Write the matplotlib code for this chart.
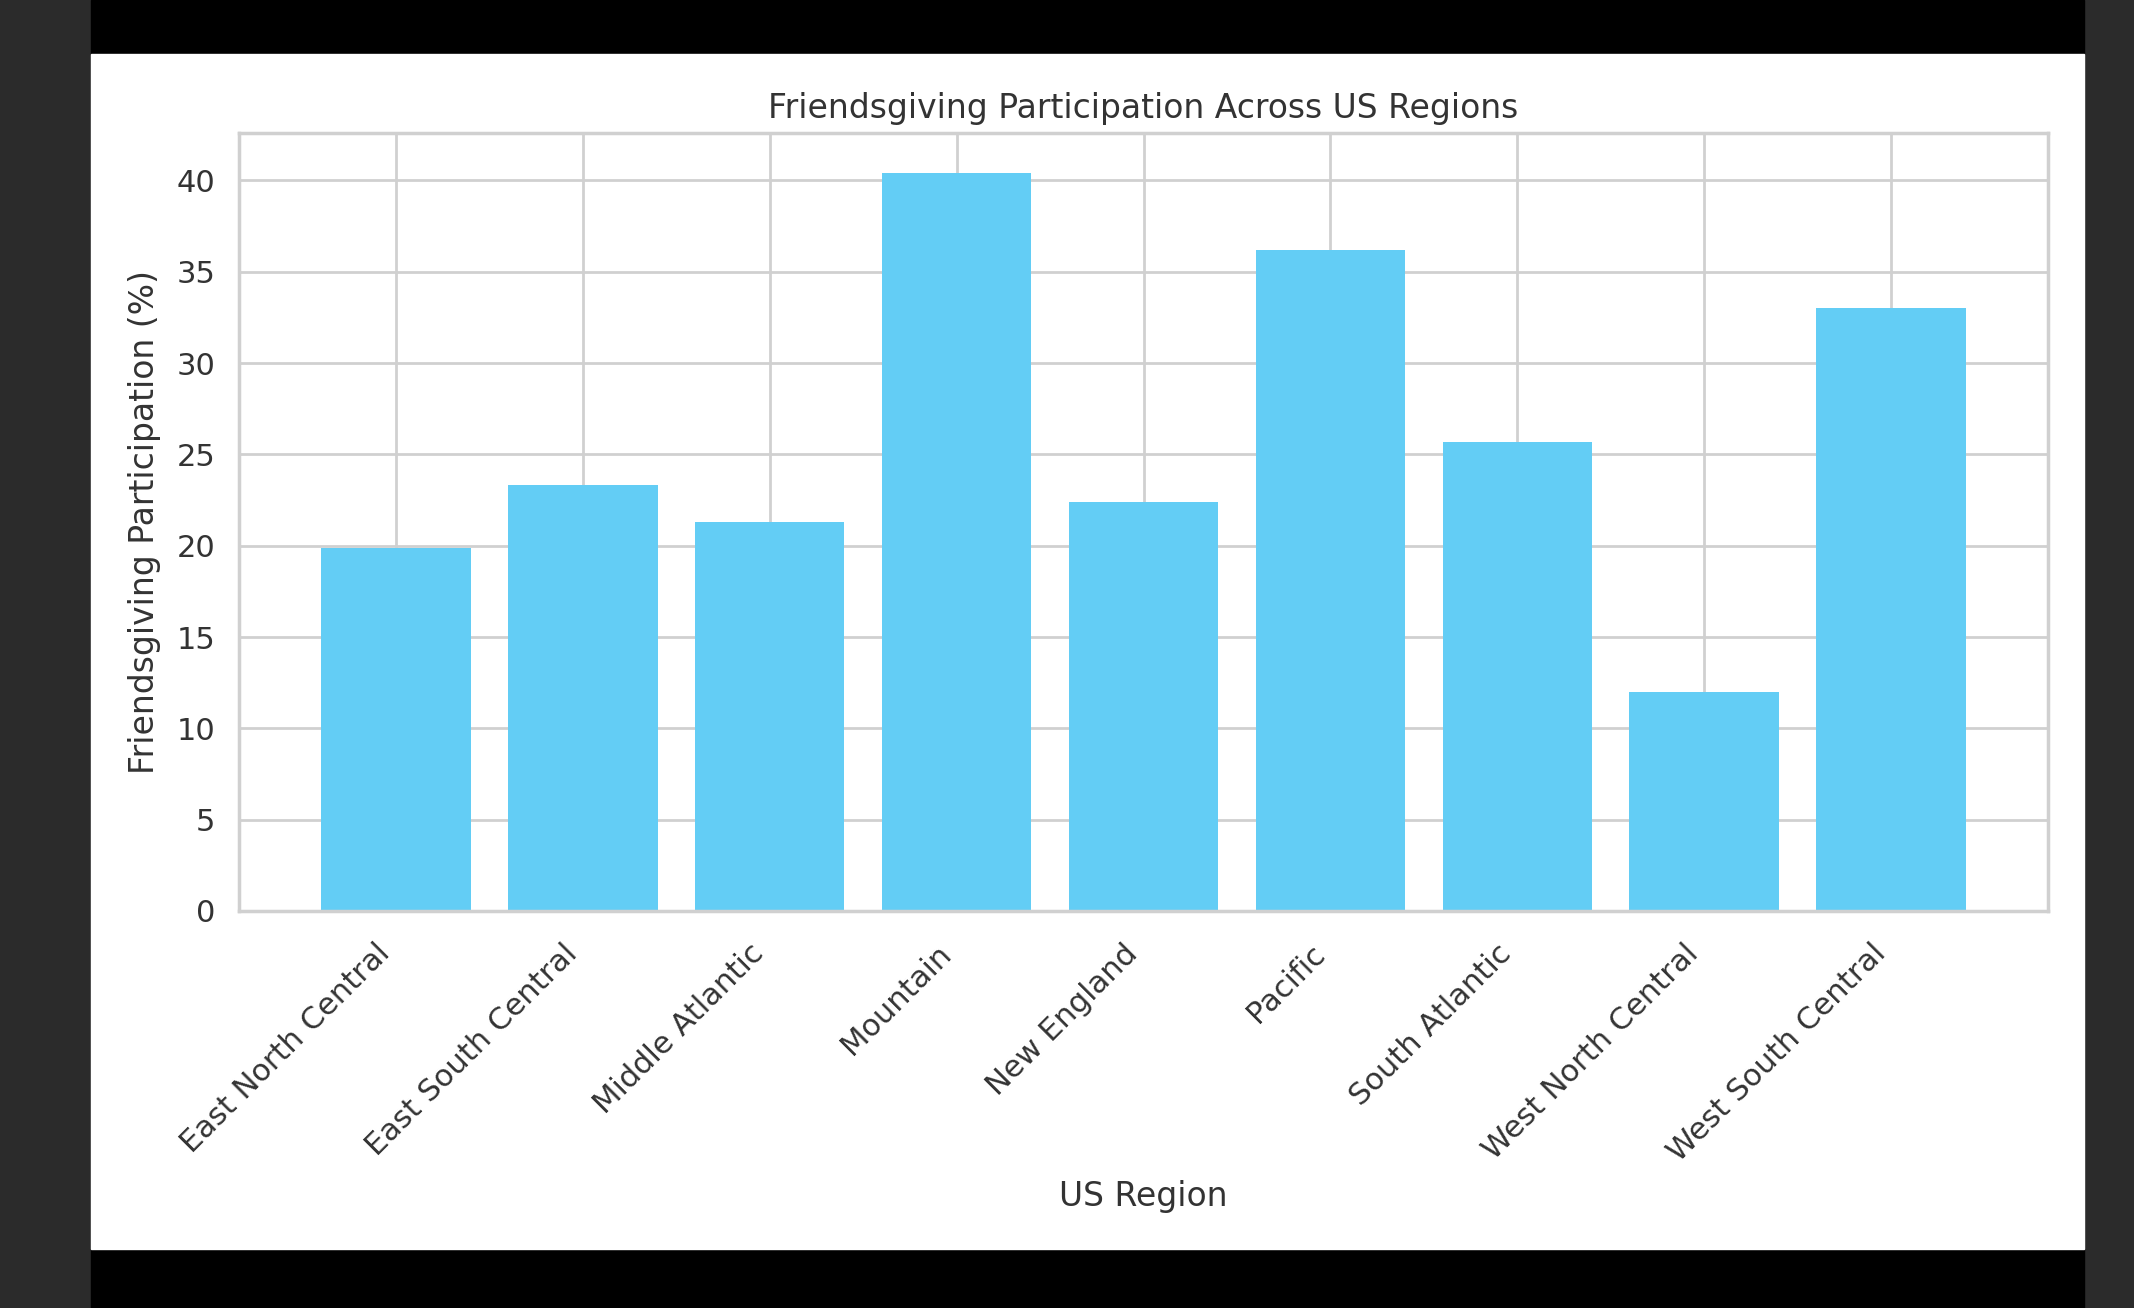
import matplotlib.pyplot as plt
from matplotlib.patches import Rectangle

# data
regions = ["East North Central", "East South Central", "Middle Atlantic", "Mountain",
           "New England", "Pacific", "South Atlantic", "West North Central",
           "West South Central"]
participation = [19.9, 23.3, 21.3, 40.4, 22.4, 36.2, 25.7, 12.0, 33.0]
yticks = [0, 5, 10, 15, 20, 25, 30, 35, 40]

W, H = 2134, 1308
fig = plt.figure(figsize=(W / 100, H / 100), dpi=100)
fig.patch.set_facecolor('#2b2b2b')

# screenshot frame: black bands and the white modal
def px_rect(x0, y0, x1, y1, color):
    fig.patches.append(Rectangle((x0 / W, 1 - y1 / H), (x1 - x0) / W, (y1 - y0) / H,
                                 transform=fig.transFigure, color=color, zorder=-10))

px_rect(91, 0, 2084, 54, '#000000')
px_rect(91, 1249, 2084, 1308, '#000000')
px_rect(91, 54, 2084, 1249, '#ffffff')

text_col = '#333333'
grid_col = '#d0d0d0'

ax = fig.add_axes([239 / W, 1 - 911 / H, (2048 - 239) / W, (911 - 133) / H])
ax.set_zorder(5)
ax.set_facecolor('white')
ax.set_axisbelow(True)
ax.grid(True, color=grid_col, linewidth=2)

ax.bar(regions, participation, width=0.8, color='#63cdf5')

ax.set_yticks(yticks)
ax.set_ylim(0, 42.6)
ax.set_title("Friendsgiving Participation Across US Regions", fontsize=23.8,
             color=text_col, pad=11)
ax.set_xlabel("US Region", fontsize=23.8, color=text_col, labelpad=9)
ax.set_ylabel("Friendsgiving Participation (%)", fontsize=23.8, color=text_col, labelpad=11)
ax.tick_params(axis='both', length=0, labelsize=22, labelcolor=text_col)
ax.tick_params(axis='x', pad=20)
ax.tick_params(axis='y', pad=17)
plt.setp(ax.get_xticklabels(), rotation=45, ha='right')

for sp in ax.spines.values():
    sp.set_color(grid_col)
    sp.set_linewidth(2.5)

fig.savefig("out.png", dpi=100, facecolor=fig.get_facecolor())
